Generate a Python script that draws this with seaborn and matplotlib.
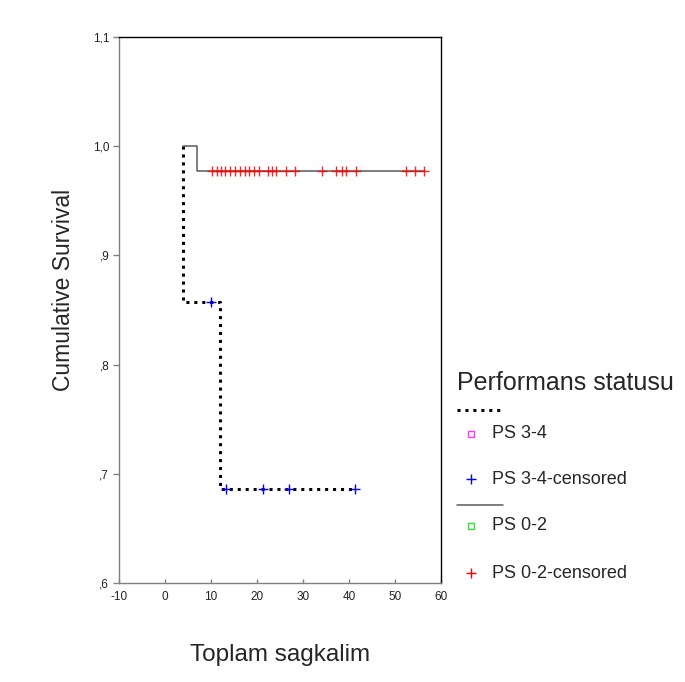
import matplotlib
matplotlib.use("Agg")
import matplotlib.pyplot as plt
from matplotlib.lines import Line2D
import seaborn as sns

sns.set_style("white")
plt.rcParams["font.family"] = ["Liberation Sans", "DejaVu Sans"]

# Kaplan-Meier step curves (time, cumulative survival)
ps34_time = [4, 4, 12, 41]
ps34_surv = [1.0, 0.857, 0.686, 0.686]
ps02_time = [4, 7, 56.5]
ps02_surv = [1.0, 0.977, 0.977]

# Censored observations
ps34_cens_time = [10.1, 13.3, 21.2, 27.0, 41.2]
ps34_cens_surv = [0.857, 0.686, 0.686, 0.686, 0.686]
ps02_cens_time = [10.3, 11.2, 12.2, 13.1, 14.2, 15.3, 16.3, 17.3, 18.3, 19.3,
                  20.4, 22.3, 23.3, 24.1, 26.2, 28.3, 34.1, 37.2, 38.5, 39.3,
                  41.5, 52.3, 54.3, 56.3]
ps02_cens_surv = [0.977] * len(ps02_cens_time)

x_ticks = [-10, 0, 10, 20, 30, 40, 50, 60]
y_ticks = [0.6, 0.7, 0.8, 0.9, 1.0, 1.1]
y_tick_labels = [",6", ",7", ",8", ",9", "1,0", "1,1"]

W, H = 685, 682
fig = plt.figure(figsize=(W / 100, H / 100), dpi=100)
ax = fig.add_axes([119 / W, 1 - 583 / H, (441 - 119) / W, (583 - 37) / H])

dotted = (0, (1, 1.6))
line_gray = "#5a5a5a"

sns.lineplot(x=ps34_time, y=ps34_surv, ax=ax, drawstyle="steps-post",
             sort=False, estimator=None, color="black", linewidth=2.2,
             linestyle=dotted, dash_capstyle="butt")
sns.lineplot(x=ps02_time, y=ps02_surv, ax=ax, drawstyle="steps-post",
             sort=False, estimator=None, color=line_gray, linewidth=1.1)

sns.scatterplot(x=ps34_cens_time, y=ps34_cens_surv, ax=ax, marker="+",
                color="#0000ff", s=55, linewidth=1.0, zorder=5)
sns.scatterplot(x=ps02_cens_time, y=ps02_cens_surv, ax=ax, marker="+",
                color="#ff0000", s=55, linewidth=1.0, alpha=0.85, zorder=5)

ax.set_xlim(-10, 60)
ax.set_ylim(0.6, 1.1)
ax.set_xticks(x_ticks)
ax.set_xticklabels([str(t) for t in x_ticks], fontsize=8.5, color="#222222")
ax.set_yticks(y_ticks)
ax.set_yticklabels(y_tick_labels, fontsize=8.5, color="#222222")
ax.tick_params(axis="x", direction="in", length=3, width=1, color="#808080", pad=6)
ax.tick_params(axis="y", direction="out", length=4, width=1, color="#808080", pad=3)
ax.tick_params(left=True, bottom=True)

for side in ("left", "bottom"):
    ax.spines[side].set_color("#808080")
    ax.spines[side].set_linewidth(1.0)
for side in ("top", "right"):
    ax.spines[side].set_color("black")
    ax.spines[side].set_linewidth(1.0)

ax.set_xlabel("")
ax.set_ylabel("")
fig.text(280 / W, 1 - 655 / H, "Toplam sagkalim", fontsize=17.5,
         ha="center", va="center")
fig.text(64 / W, 1 - 290 / H, "Cumulative Survival", fontsize=16.5,
         rotation=90, ha="center", va="center")

# Legend block to the right of the axes
def fx(px):
    return px / W

def fy(py):
    return 1 - py / H

fig.text(fx(457), fy(383), "Performans statusu", fontsize=18, ha="left", va="center")
fig.add_artist(Line2D([fx(457), fx(503)], [fy(410), fy(410)], color="black",
                      linewidth=2.2, linestyle=dotted, dash_capstyle="butt"))
fig.add_artist(Line2D([fx(471)], [fy(434)], marker="s", markersize=4.5,
                      markerfacecolor="none", markeredgecolor="#ff33ff",
                      markeredgewidth=1.0, linestyle="none"))
fig.text(fx(492), fy(434), "PS 3-4", fontsize=13, ha="left", va="center")
fig.add_artist(Line2D([fx(471)], [fy(479)], marker="+", markersize=7,
                      color="#0000ff", markeredgewidth=1.0, linestyle="none"))
fig.text(fx(492), fy(479), "PS 3-4-censored", fontsize=13, ha="left", va="center")
fig.add_artist(Line2D([fx(457), fx(503)], [fy(505), fy(505)], color=line_gray,
                      linewidth=1.1))
fig.add_artist(Line2D([fx(471)], [fy(526)], marker="s", markersize=4.5,
                      markerfacecolor="none", markeredgecolor="#33dd33",
                      markeredgewidth=1.0, linestyle="none"))
fig.text(fx(492), fy(526), "PS 0-2", fontsize=13, ha="left", va="center")
fig.add_artist(Line2D([fx(471)], [fy(573)], marker="+", markersize=7,
                      color="#ff0000", markeredgewidth=1.0, linestyle="none"))
fig.text(fx(492), fy(573), "PS 0-2-censored", fontsize=13, ha="left", va="center")

fig.savefig("out.png", dpi=100, facecolor="white")
